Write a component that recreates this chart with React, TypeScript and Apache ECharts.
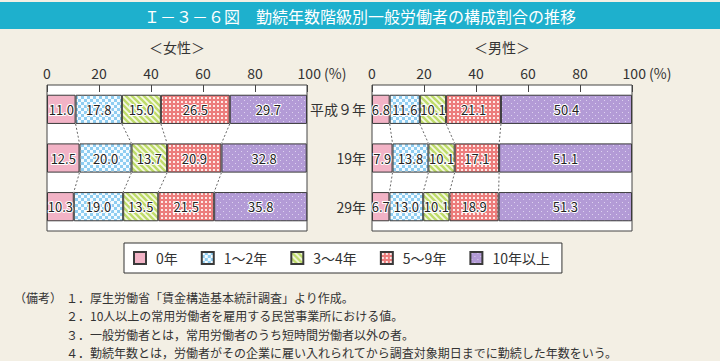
import React, { useEffect, useRef } from 'react';
import * as echarts from 'echarts';

const years = ['平成９年', '19年', '29年'];
const seriesNames = ['0年', '1～2年', '3～4年', '5～9年', '10年以上'];

const female0 = [11.0, 12.5, 10.3];
const female1 = [17.8, 20.0, 19.0];
const female2 = [15.0, 13.7, 13.5];
const female3 = [26.5, 20.9, 21.5];
const female4 = [29.7, 32.8, 35.8];

const male0 = [6.8, 7.9, 6.7];
const male1 = [11.6, 13.8, 13.0];
const male2 = [10.1, 10.1, 10.1];
const male3 = [21.1, 17.1, 18.9];
const male4 = [50.4, 51.1, 51.3];

const femaleSeries = [female0, female1, female2, female3, female4];
const maleSeries = [male0, male1, male2, male3, male4];

const titleText = 'Ｉ－３－６図　勤続年数階級別一般労働者の構成割合の推移';
const noteHead = '（備考）';
const notes = [
  '１．厚生労働省「賃金構造基本統計調査」より作成。',
  '２．10人以上の常用労働者を雇用する民営事業所における値。',
  '３．一般労働者とは，常用労働者のうち短時間労働者以外の者。',
  '４．勤続年数とは，労働者がその企業に雇い入れられてから調査対象期日までに勤続した年数をいう。',
];

const FONT = '"Noto Sans CJK JP", "Noto Sans", sans-serif';

function tile(w: number, h: number, draw: (ctx: CanvasRenderingContext2D) => void) {
  const c = document.createElement('canvas');
  c.width = w;
  c.height = h;
  const ctx = c.getContext('2d') as CanvasRenderingContext2D;
  draw(ctx);
  return { image: c, repeat: 'repeat', imageWidth: w, imageHeight: h } as any;
}

function makePatterns() {
  const pink = '#f2b3c6';
  const blue = tile(6, 6, (ctx) => {
    ctx.fillStyle = '#8fcdf1';
    ctx.fillRect(0, 0, 6, 6);
    ctx.fillStyle = '#f4fbff';
    ctx.fillRect(0, 0, 3, 3);
    ctx.fillRect(3, 3, 3, 3);
  });
  const green = tile(6, 6, (ctx) => {
    ctx.fillStyle = '#f6f9e4';
    ctx.fillRect(0, 0, 6, 6);
    ctx.strokeStyle = '#bedb6a';
    ctx.lineWidth = 2.4;
    for (const c of [-6, 0, 6]) {
      ctx.beginPath();
      ctx.moveTo(-1, -1 + c);
      ctx.lineTo(7, 7 + c);
      ctx.stroke();
    }
  });
  const red = tile(4, 4, (ctx) => {
    ctx.fillStyle = '#ec7c7c';
    ctx.fillRect(0, 0, 4, 4);
    ctx.fillStyle = '#fde8e6';
    ctx.fillRect(1, 1, 2, 2);
  });
  const purple = tile(6, 6, (ctx) => {
    ctx.fillStyle = '#b39bd6';
    ctx.fillRect(0, 0, 6, 6);
    ctx.fillStyle = '#ddd2ef';
    ctx.fillRect(1, 1, 1, 1);
    ctx.fillRect(4, 4, 1, 1);
  });
  return [pink, blue, green, red, purple];
}

function connectorData(arrs: number[][]) {
  const out: number[][] = [];
  for (let i = 0; i < years.length - 1; i++) {
    let a = 0;
    let b = 0;
    for (let k = 0; k < arrs.length - 1; k++) {
      a += arrs[k][i];
      b += arrs[k][i + 1];
      out.push([a, b, i]);
    }
  }
  return out;
}

export default function App() {
  const ref = useRef<HTMLDivElement>(null);
  useEffect(() => {
    if (!ref.current) return;
    const chart = echarts.init(ref.current, null, { renderer: 'svg' });
    const patterns = makePatterns();

    const gridLeft = [47, 372];
    const gridW = 260;
    const gridTop = 85;
    const gridH = 146;

    const xAxis = [0, 1].map((g) => ({
      type: 'value',
      gridIndex: g,
      min: 0,
      max: 100,
      interval: 20,
      position: 'top',
      name: g === 0 ? '＜女性＞' : '＜男性＞',
      nameLocation: 'middle',
      nameGap: 31,
      nameTextStyle: { fontSize: 14, color: '#333', fontFamily: FONT },
      axisLine: { show: false },
      axisTick: { show: true, inside: true, length: 7, lineStyle: { color: '#444', width: 1 } },
      splitLine: { show: false },
      axisLabel: {
        fontSize: 14,
        color: '#333',
        fontFamily: FONT,
        margin: 5,
        formatter: (v: number) => (v === 100 ? '{pad|}100 (%)' : String(v)),
        rich: { pad: { width: 30 } },
      },
    }));

    const yAxis = [0, 1].map((g) => ({
      type: 'category',
      gridIndex: g,
      data: years,
      inverse: true,
      axisLine: { show: false },
      axisTick: { show: false },
      axisLabel: {
        show: g === 1,
        fontSize: 14,
        color: '#333',
        fontFamily: FONT,
        margin: 6,
      },
    }));

    const barSeries: any[] = [];
    [femaleSeries, maleSeries].forEach((set, g) => {
      set.forEach((arr, k) => {
        barSeries.push({
          type: 'bar',
          name: seriesNames[k],
          stack: 'g' + g,
          xAxisIndex: g,
          yAxisIndex: g,
          barWidth: '60%',
          data: arr,
          itemStyle: { color: patterns[k], borderColor: '#3a3a3a', borderWidth: 1 },
          label: {
            show: true,
            position: 'inside',
            fontSize: 13,
            color: '#222',
            fontFamily: FONT,
            textBorderColor: '#fff',
            textBorderWidth: 2,
            formatter: (p: any) => Number(p.value).toFixed(1),
          },
        });
      });
      barSeries.push({
        type: 'custom',
        xAxisIndex: g,
        yAxisIndex: g,
        silent: true,
        encode: { x: [0, 1], y: 2 },
        data: connectorData(set),
        renderItem: (params: any, api: any) => {
          const a = api.value(0);
          const b = api.value(1);
          const i = api.value(2);
          const p1 = api.coord([a, i]);
          const p2 = api.coord([b, i + 1]);
          const half = api.size([0, 1])[1] * 0.3;
          return {
            type: 'line',
            shape: { x1: p1[0], y1: p1[1] + half, x2: p2[0], y2: p2[1] - half },
            style: { stroke: '#666', lineWidth: 1, lineDash: [2, 2] },
          };
        },
      });
    });

    const graphic: any[] = [
      { type: 'rect', left: 0, top: 2, shape: { width: 720, height: 27 }, style: { fill: '#1eb0cd' } },
      {
        type: 'text',
        x: 360,
        y: 15.5,
        style: {
          text: titleText,
          fill: '#fff',
          font: `16px ${FONT}`,
          textAlign: 'center',
          textVerticalAlign: 'middle',
        },
      },
      {
        type: 'text',
        x: 14,
        y: 297,
        style: { text: noteHead, fill: '#333', font: `12px ${FONT}`, textVerticalAlign: 'middle' },
      },
    ];
    const noteY = [297, 315, 334, 352];
    notes.forEach((t, i) => {
      graphic.push({
        type: 'text',
        x: 66,
        y: noteY[i],
        style: { text: t, fill: '#333', font: `12px ${FONT}`, textVerticalAlign: 'middle' },
      });
    });

    chart.setOption({
      animation: false,
      backgroundColor: '#f3efe4',
      grid: gridLeft.map((l) => ({
        left: l,
        top: gridTop,
        width: gridW,
        height: gridH,
        show: true,
        backgroundColor: '#fff',
        borderColor: '#444',
        borderWidth: 1,
      })),
      xAxis,
      yAxis,
      legend: {
        data: seriesNames,
        icon: 'rect',
        left: 124,
        top: 243,
        width: 431,
        padding: [8, 12, 8, 9],
        itemGap: 23,
        itemWidth: 12,
        itemHeight: 12,
        backgroundColor: '#fff',
        borderColor: '#333',
        borderWidth: 1,
        textStyle: { fontSize: 14, color: '#333', fontFamily: FONT, padding: [0, 0, 0, 5] },
        selectedMode: false,
      },
      series: barSeries,
      graphic,
    } as any);
    return () => chart.dispose();
  }, []);
  return (
    <div
      ref={ref}
      style={{ position: 'fixed', left: 0, top: 0, width: 720, height: 361 }}
    />
  );
}
